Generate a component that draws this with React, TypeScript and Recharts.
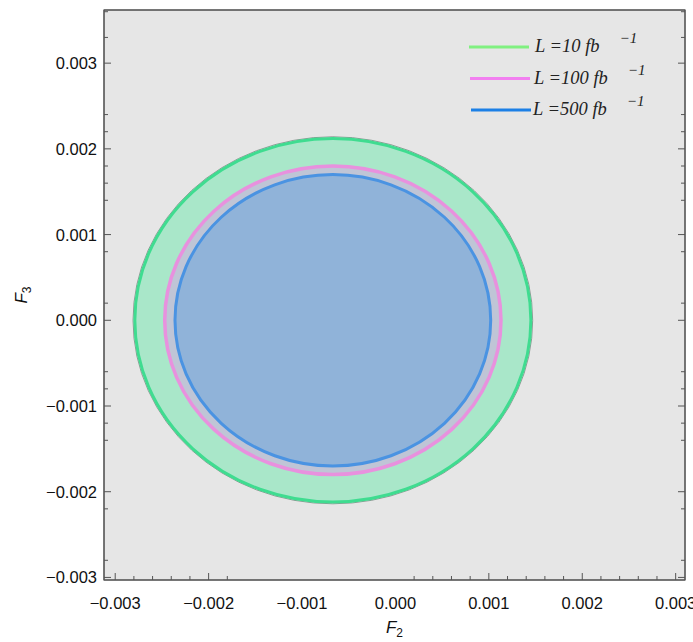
import { ScatterChart, XAxis, YAxis, CartesianGrid, ReferenceArea, Legend } from "recharts";

// exclusion contours in the (F2, F3) plane, one per integrated luminosity
const seriesNames = ["L =10 fb", "L =100 fb", "L =500 fb"];
const centerF2 = [-0.00067, -0.00067, -0.00067];
const centerF3 = [0, 0, 0];
const radiusF2 = [0.00212, 0.0018, 0.00169];
const radiusF3 = [0.00212, 0.0018, 0.0017];

const fills = ["#a9e7c9", "#bfc5d6", "#90b3d9"];
const strokes = ["#3fdc90", "#e891de", "#4a93e2"];
const legendColors = ["#80f080", "#f27ff0", "#1c80e6"];

// tick marks as they appear on the frame
const labelTicksF2 = [-0.003, -0.002, -0.001, 0, 0.001, 0.002, 0.003];
const markTicksF2 = [
  -0.003, -0.0028, -0.0026, -0.0024, -0.0022, -0.002, -0.0018,
  0.0002, 0.0004, 0.0006, 0.0008, 0.001, 0.0012, 0.0014, 0.0016, 0.0018,
  0.002, 0.0022, 0.0024, 0.0026, 0.0028, 0.003,
];
const labelTicksF3 = [-0.003, -0.002, -0.001, 0, 0.001, 0.002, 0.003];
const markTicksF3 = [
  0.0036, 0.0033, 0.003, 0.0024, 0.0022, 0.002, 0.0018, 0.0016, 0.0014,
  0.001, 0.0008, 0.0002, 0, -0.0006, -0.0008, -0.001, -0.0012, -0.0014,
  -0.002, -0.0022, -0.0028, -0.003,
];

const xDomain = [-0.00312, 0.0031];
const yDomain = [-0.00303, 0.00362];

const frame = "#555555";
const tickFont = "'Liberation Sans', Arial, sans-serif";

const has = (list: number[], v: number) => list.some((t) => Math.abs(t - v) < 1e-9);
const isMajor = (v: number) => Math.abs(v * 1000 - Math.round(v * 1000)) < 1e-6;
const fmt = (v: number) => (Math.abs(v) < 1e-12 ? "0.000" : v.toFixed(3).replace("-", "\u2212"));

const allTicksF2 = Array.from(new Set([...labelTicksF2, ...markTicksF2])).sort((a, b) => a - b);
const allTicksF3 = Array.from(new Set([...labelTicksF3, ...markTicksF3])).sort((a, b) => a - b);

const BottomTick = (props: any) => {
  const { x, y, payload } = props;
  const v = payload.value;
  return (
    <g>
      {has(markTicksF2, v) && (
        <line x1={x} x2={x} y1={y} y2={y - (isMajor(v) ? 7 : 4)} stroke={frame} />
      )}
      {has(labelTicksF2, v) && (
        <text x={x} y={y + 29} textAnchor="middle" fontFamily={tickFont} fontSize={16.5} fill="#111">
          {fmt(v)}
        </text>
      )}
    </g>
  );
};

const TopTick = (props: any) => {
  const { x, y, payload } = props;
  const v = payload.value;
  if (!has(markTicksF2, v)) return <g />;
  return <line x1={x} x2={x} y1={y} y2={y + (isMajor(v) ? 7 : 4)} stroke={frame} />;
};

const LeftTick = (props: any) => {
  const { x, y, payload } = props;
  const v = payload.value;
  return (
    <g>
      {has(markTicksF3, v) && (
        <line x1={x} x2={x + (isMajor(v) ? 7 : 4)} y1={y} y2={y} stroke={frame} />
      )}
      {has(labelTicksF3, v) && (
        <text x={x - 7} y={y + 6} textAnchor="end" fontFamily={tickFont} fontSize={16.5} fill="#111">
          {fmt(v)}
        </text>
      )}
    </g>
  );
};

const RightTick = (props: any) => {
  const { x, y, payload } = props;
  const v = payload.value;
  if (!has(markTicksF3, v)) return <g />;
  return <line x1={x} x2={x - (isMajor(v) ? 7 : 4)} y1={y} y2={y} stroke={frame} />;
};

const XTitle = (props: any) => {
  const { x, y, width } = props.viewBox;
  return (
    <text x={x + width / 2} y={y + 53} textAnchor="middle" fontFamily={tickFont} fontSize={17} fill="#111">
      <tspan fontStyle="italic">F</tspan>
      <tspan fontSize={12} dy={4}>2</tspan>
    </text>
  );
};

const YTitle = (props: any) => {
  const { y, height } = props.viewBox;
  const cx = 27;
  const cy = y + height / 2;
  return (
    <text x={cx} y={cy} transform={`rotate(-90 ${cx} ${cy})`} textAnchor="middle" fontFamily={tickFont} fontSize={17} fill="#111">
      <tspan fontStyle="italic">F</tspan>
      <tspan fontSize={12} dy={4}>3</tspan>
    </text>
  );
};

const contourShape = (i: number) => (props: any) => {
  const { x, y, width, height } = props;
  return (
    <g>
      {i === 0 && (
        <ellipse cx={x + width / 2} cy={y + height / 2} rx={width / 2 + 1.8} ry={height / 2 + 1.8} fill="none" stroke="#8c9a94" strokeWidth={1} />
      )}
      <ellipse
        cx={x + width / 2}
        cy={y + height / 2}
        rx={width / 2}
        ry={height / 2}
        fill={fills[i]}
        stroke={strokes[i]}
        strokeWidth={i === 1 ? 3.5 : 3}
      />
    </g>
  );
};

const frameShape = (props: any) => {
  const { x, y, width, height } = props;
  return <rect x={x} y={y} width={width} height={height} fill="none" stroke={frame} strokeWidth={1.2} />;
};

const LegendBox = () => (
  <svg width={230} height={100}>
    {seriesNames.map((name, i) => {
      const ly = 17 + i * 31.5;
      return (
        <g key={name}>
          <line x1={5 + i} x2={65 + i} y1={ly} y2={ly} stroke={legendColors[i]} strokeWidth={3} />
          <text x={71 - i} y={ly + 5} fontFamily="'Liberation Serif', serif" fontStyle="italic" fontSize={18.5} fill="#222">
            {name}
            <tspan dx={20} dy={-9} fontSize={15}>{"\u22121"}</tspan>
          </text>
        </g>
      );
    })}
  </svg>
);

export default function App() {
  return (
    <div style={{ position: "absolute", left: 0, top: 0, width: 693, height: 642, background: "#fff" }}>
      <ScatterChart width={693} height={642} margin={{ top: 9, right: 7, bottom: 0, left: 0 }}>
        <CartesianGrid horizontal={false} vertical={false} fill="#e6e6e6" />
        <XAxis
          type="number"
          xAxisId="b"
          dataKey="f2"
          domain={xDomain}
          allowDataOverflow
          ticks={allTicksF2}
          interval={0}
          height={62}
          tickSize={0}
          tickMargin={0}
          tickLine={false}
          tick={<BottomTick />}
          stroke={frame}
          label={<XTitle />}
        />
        <XAxis
          type="number"
          xAxisId="t"
          orientation="top"
          domain={xDomain}
          allowDataOverflow
          ticks={allTicksF2}
          interval={0}
          height={1}
          tickSize={0}
          tickMargin={0}
          tickLine={false}
          tick={<TopTick />}
          stroke={frame}
        />
        <YAxis
          type="number"
          yAxisId="l"
          dataKey="f3"
          domain={yDomain}
          allowDataOverflow
          ticks={allTicksF3}
          interval={0}
          width={104}
          tickSize={0}
          tickMargin={0}
          tickLine={false}
          tick={<LeftTick />}
          stroke={frame}
          label={<YTitle />}
        />
        <YAxis
          type="number"
          yAxisId="r"
          orientation="right"
          domain={yDomain}
          allowDataOverflow
          ticks={allTicksF3}
          interval={0}
          width={1}
          tickSize={0}
          tickMargin={0}
          tickLine={false}
          tick={<RightTick />}
          stroke={frame}
        />
        {seriesNames.map((name, i) => (
          <ReferenceArea
            key={name}
            xAxisId="b"
            yAxisId="l"
            x1={centerF2[i] - radiusF2[i]}
            x2={centerF2[i] + radiusF2[i]}
            y1={centerF3[i] - radiusF3[i]}
            y2={centerF3[i] + radiusF3[i]}
            shape={contourShape(i)}
            isAnimationActive={false}
          />
        ))}
        <ReferenceArea
          xAxisId="b"
          yAxisId="l"
          x1={xDomain[0]}
          x2={xDomain[1]}
          y1={yDomain[0]}
          y2={yDomain[1]}
          ifOverflow="visible"
          shape={frameShape}
        />
        <Legend
          layout="vertical"
          align="center"
          verticalAlign="middle"
          content={<LegendBox />}
          wrapperStyle={{ top: 30, left: 464, width: 230, height: 100 }}
        />
      </ScatterChart>
    </div>
  );
}
